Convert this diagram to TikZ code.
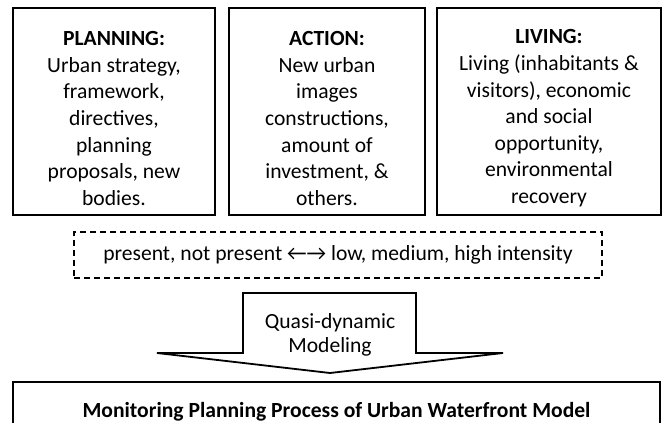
\documentclass[tikz,border=0pt]{standalone}
\usepackage{fontspec}
\setmainfont{Carlito}
\newcommand{\topgap}{\rule{0pt}{14pt}}
\tikzstyle{block} = [draw, line width=1pt, rectangle, align=center,
    minimum height=103.5pt, inner sep=0pt,
    font=\fontsize{10.8pt}{13.3pt}\selectfont]
\tikzstyle{scalebox} = [draw, line width=1pt, rectangle, dash pattern=on 3pt off 2pt,
    minimum width=264pt, minimum height=23pt, inner sep=0pt,
    font=\fontsize{10.8pt}{13.3pt}\selectfont]
\tikzstyle{arrowtext} = [align=center, inner sep=0pt,
    font=\fontsize{10.8pt}{12pt}\selectfont]
\tikzstyle{bigarrow} = [draw, line width=0.9pt, line join=miter]
\tikzstyle{model} = [draw, line width=1pt, rectangle, anchor=north,
    minimum width=323.5pt, minimum height=29.7pt, inner sep=0pt,
    font=\fontsize{10.8pt}{13.3pt}\selectfont\bfseries]

\begin{document}
\begin{tikzpicture}[x=0.5pt, y=-0.5pt, node distance=106.5pt]
    \clip (0,0) rectangle (665,423);
    % % % % % % % % % % % % % % % % % % % % % % %
    % Top row of blocks
    % % % % % % % % % % % % % % % % % % % % % % %
    \node [block, minimum width=101pt] (plan) at (114,111.5)
        {\topgap\textbf{PLANNING:}\\Urban strategy,\\framework,\\directives,\\planning\\proposals, new\\bodies.};
    \node [block, minimum width=98pt, right of=plan] (act)
        {\topgap\textbf{ACTION:}\\New urban\\images\\constructions,\\amount of\\investment, \&\\others.};
    \node [block, minimum width=112pt, right of=act, node distance=111pt] (live)
        {\topgap\textbf{LIVING:}\\Living (inhabitants \&\\visitors), economic\\and social\\opportunity,\\environmental\\recovery};

    % intensity scale
    \node [scalebox] (scale) at (338,255) {present, not present ←→ low, medium, high intensity};

    % the big arrow
    \node [arrowtext] (quasi) at (330,335) {Quasi-dynamic\\Modeling};
    \draw [bigarrow] (243,293) -- (416,293) -- (416,353) -- (503,353)
        -- (330,373) -- (157,353) -- (243,353) -- cycle;

    % result
    \node [model] (result) at (336.5,381) {Monitoring Planning Process of Urban Waterfront Model};
\end{tikzpicture}
\end{document}
